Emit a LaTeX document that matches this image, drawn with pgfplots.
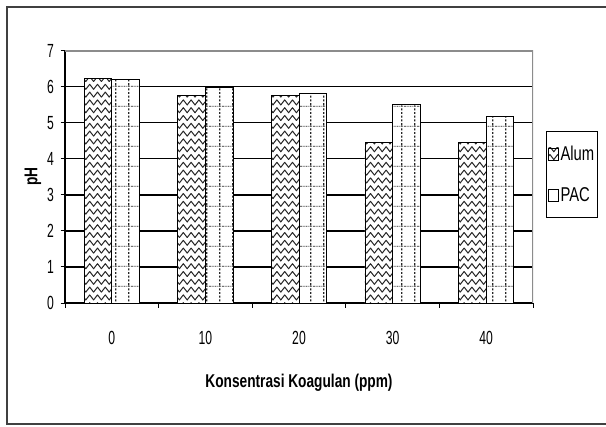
\documentclass[border=0pt]{standalone}
\usepackage{fontspec}
\setmainfont{Liberation Sans}[FakeStretch=0.74]
\newfontfamily\tickfont{Liberation Sans}[FakeStretch=0.64]
\usepackage{pgfplots}
\pgfplotsset{compat=1.18}
\usetikzlibrary{patterns}

% zigzag hatching for the Alum bars
\pgfdeclarepatternformonly{zigzag}{\pgfpoint{-1bp}{0bp}}{\pgfpoint{8.8bp}{7.8bp}}{\pgfpoint{7.8bp}{7.8bp}}{%
  \pgfsetlinewidth{1bp}%
  \pgfsetroundcap\pgfsetroundjoin
  \pgfpathmoveto{\pgfpoint{0bp}{1.3bp}}%
  \pgfpathlineto{\pgfpoint{3.9bp}{6.3bp}}%
  \pgfpathlineto{\pgfpoint{7.8bp}{1.3bp}}%
  \pgfusepath{stroke}%
}
% dashed / dotted grid for the PAC bars
\pgfdeclarepatternformonly{dotgrid}{\pgfpointorigin}{\pgfpoint{13.37bp}{20.3bp}}{\pgfpoint{13.37bp}{20.3bp}}{%
  \pgfsetlinewidth{1.1bp}%
  \pgfsetdash{{2bp}{1.8bp}}{0bp}%
  \pgfpathmoveto{\pgfpoint{10.2bp}{0bp}}%
  \pgfpathlineto{\pgfpoint{10.2bp}{20.3bp}}%
  \pgfusepath{stroke}%
  \pgfsetlinewidth{0.9bp}%
  \pgfsetdash{{0.9bp}{0.9bp}}{0bp}%
  \pgfpathmoveto{\pgfpoint{0bp}{19.3bp}}%
  \pgfpathlineto{\pgfpoint{13.37bp}{19.3bp}}%
  \pgfusepath{stroke}%
}

\begin{document}
\begin{tikzpicture}[x=1bp,y=1bp]
\useasboundingbox (0,0) rectangle (606,426);
\clip (0,0) rectangle (606,426);
% chart frame
\draw[black!75, line width=1.3bp] (640,419) -- (7,419) -- (7,2) -- (640,2);
\begin{axis}[
  at={(65bp,123bp)}, anchor=south west,
  width=468bp, height=252.5bp, scale only axis,
  xmin=-0.5, xmax=4.5, ymin=0, ymax=7,
  xtick={-0.5,0.5,1.5,2.5,3.5,4.5},
  xticklabels={0,10,20,30,40,{}},
  ytick={0,1,...,7},
  tick align=outside,
  major tick length=4.5bp,
  tick style={black, line width=1bp},
  axis x line*=bottom, axis y line*=left,
  axis line style={black, line width=1.5bp},
  ymajorgrids,
  grid style={black, line width=1.5bp},
  /pgf/number format/assume math mode=true,
  tick label style={font=\tickfont\fontsize{19bp}{21bp}\selectfont},
  xticklabel style={anchor=center, inner sep=0pt, xshift=46.8bp, yshift=-30bp},
  yticklabel style={anchor=east, inner sep=0pt, xshift=-6.5bp},
  xlabel={Konsentrasi Koagulan (ppm)},
  ylabel={pH},
  xlabel style={at={(axis description cs:0.5,0)}, anchor=center, yshift=-80bp,
    font=\bfseries\fontsize{18.5bp}{21bp}\selectfont},
  ylabel style={at={(axis description cs:-0.0684,0.5)}, anchor=center,
    font=\bfseries\fontsize{18.5bp}{21bp}\selectfont},
  legend style={at={(axis description cs:1.0278,0.6812)}, anchor=north west,
    draw=black, line width=0.8bp, inner xsep=2bp, inner ysep=13bp,
    row sep=23bp, font=\fontsize{20bp}{22bp}\selectfont,
    nodes={inner sep=1.5bp}},
  legend cell align=left,
  legend image code/.code={%
    \draw[#1, line width=0.6bp] (0bp,-6bp) rectangle (10bp,6bp);},
]
\addplot[ybar, bar width=0.295, bar shift=-0.1475, fill=white, draw=black, line width=0.8bp,
  pattern color=black!85, postaction={pattern=zigzag, draw=black}]
  coordinates {(0,6.22) (1,5.75) (2,5.75) (3,4.44) (4,4.46)};
\addlegendentry{Alum}
\addplot[ybar, bar width=0.295, bar shift=0.1475, fill=white, draw=black, line width=0.8bp,
  pattern color=black!85, postaction={pattern=dotgrid, draw=black}]
  coordinates {(0,6.20) (1,5.98) (2,5.80) (3,5.51) (4,5.18)};
\addlegendentry{PAC}
% plot area border on the top and right
\draw[black!45, line width=2bp] (rel axis cs:0,1) -- (rel axis cs:1,1) -- (rel axis cs:1,0);
\end{axis}
\end{tikzpicture}
\end{document}
